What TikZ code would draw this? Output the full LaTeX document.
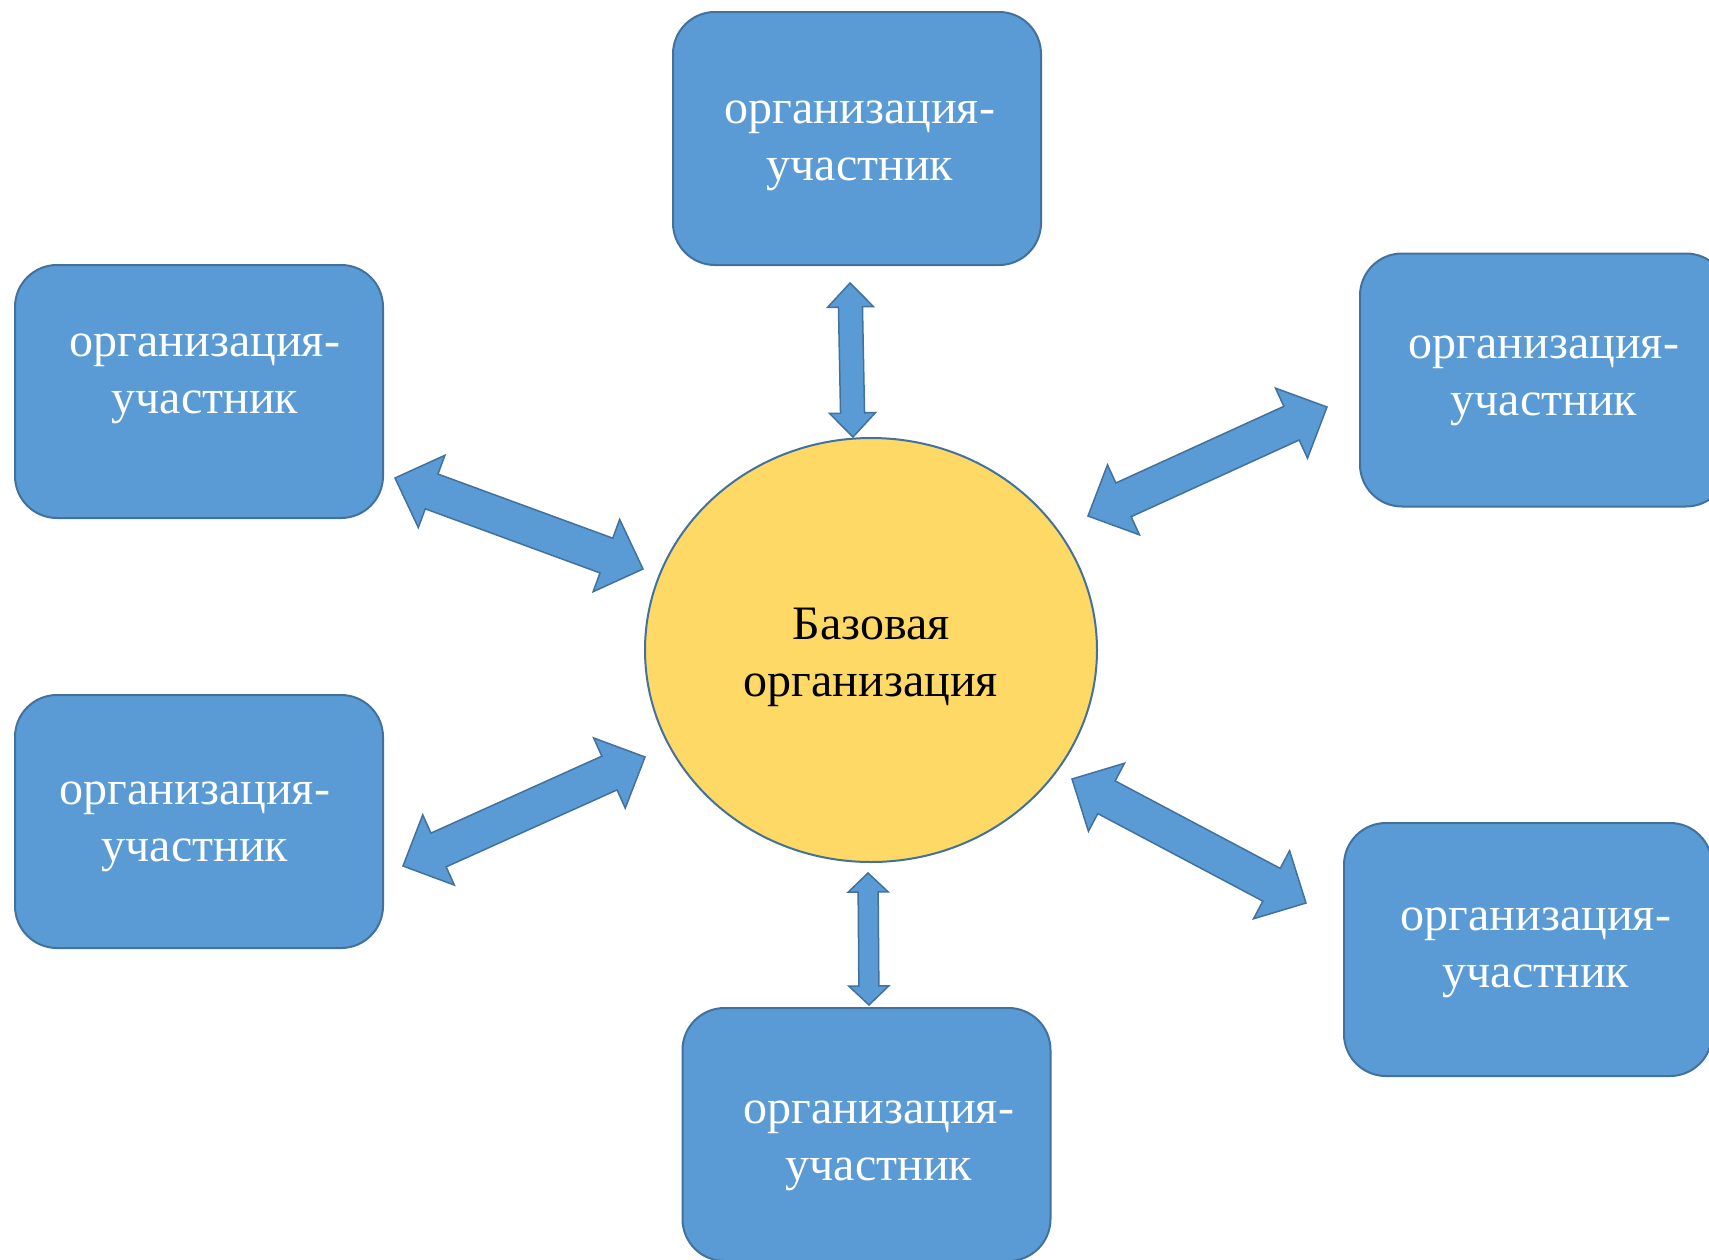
\documentclass[tikz,border=0pt]{standalone}
\usepackage{fontspec}
\setmainfont{Liberation Serif}
\usetikzlibrary{calc,shapes.geometric}
\definecolor{boxblue}{HTML}{5B9BD5}
\definecolor{edgeblue}{HTML}{41719C}
\definecolor{hubgold}{HTML}{FFD966}
% #1 start, #2 end, #3 half shaft width, #4 half head width, #5 head length
\newcommand\dblarr[5]{%
  \filldraw[biarrow] (#1)
    -- ($(#1)!#5!(#2)!#4!90:(#2)$)
    -- ($(#1)!#5!(#2)!#3!90:(#2)$)
    -- ($(#2)!#5!(#1)!#3!-90:(#1)$)
    -- ($(#2)!#5!(#1)!#4!-90:(#1)$)
    -- (#2)
    -- ($(#2)!#5!(#1)!#4!90:(#1)$)
    -- ($(#2)!#5!(#1)!#3!90:(#1)$)
    -- ($(#1)!#5!(#2)!#3!-90:(#2)$)
    -- ($(#1)!#5!(#2)!#4!-90:(#2)$)
    -- cycle;}
\begin{document}
\begin{tikzpicture}[x=1pt,y=-1pt,
  box/.style={draw=edgeblue, fill=boxblue, line width=2pt, rounded corners=42pt,
    minimum width=368pt, minimum height=253pt, inner sep=0pt},
  boxtext/.style={text=white, align=center, inner sep=0pt,
    font=\fontsize{48}{57}\selectfont},
  hub/.style={ellipse, draw=edgeblue, fill=hubgold, line width=2pt,
    minimum width=452pt, minimum height=424pt, inner sep=0pt},
  hubtext/.style={text=black, align=center, inner sep=0pt,
    font=\fontsize{48}{57}\selectfont},
  biarrow/.style={fill=boxblue, draw=edgeblue, line width=1.5pt, line join=miter}]
\useasboundingbox (0,0) rectangle (1709,1259);
\fill[white] (0,0) rectangle (1709,1259);

% boxes
\node[box] (top) at (857,138.5) {};
\node[box] (lt)  at (199,391.5) {};
\node[box] (lb)  at (199,821.5) {};
\node[box] (rt)  at (1544,380) {};
\node[box] (rb)  at (1528,949.5) {};
\node[box] (bot) at (866.5,1134.5) {};
\node[hub] (hub) at (871,650) {};

% texts
\node[boxtext] (top-t) at (860,145.5) {организация-\\участник};
\node[boxtext] (lt-t)  at (205,379) {организация-\\участник};
\node[boxtext] (lb-t)  at (195,827) {организация-\\участник};
\node[boxtext] (rt-t)  at (1544,381) {организация-\\участник};
\node[boxtext] (rb-t)  at (1536,953) {организация-\\участник};
\node[boxtext] (bot-t) at (879,1146) {организация-\\участник};
\node[hubtext] (hub-t) at (871,657.5) {Базовая\\организация};

% arrow ends
\coordinate (a-top-1) at (850,283);
\coordinate (a-top-2) at (853,437);
\coordinate (a-bot-1) at (868,873);
\coordinate (a-bot-2) at (869,1005);
\coordinate (a-lt-1) at (395,478);
\coordinate (a-lt-2) at (643,569);
\coordinate (a-rt-1) at (1088,516);
\coordinate (a-rt-2) at (1327,407);
\coordinate (a-lb-1) at (403,866);
\coordinate (a-lb-2) at (645,757);
\coordinate (a-rb-1) at (1072,779);
\coordinate (a-rb-2) at (1306,903);

% arrows
\dblarr{a-top-1}{a-top-2}{12pt}{23pt}{24pt}
\dblarr{a-bot-1}{a-bot-2}{10pt}{20pt}{19pt}
\dblarr{a-lt-1}{a-lt-2}{18.5pt}{38.5pt}{39pt}
\dblarr{a-rt-1}{a-rt-2}{18.5pt}{38.5pt}{39pt}
\dblarr{a-lb-1}{a-lb-2}{18.5pt}{38.5pt}{39pt}
\dblarr{a-rb-1}{a-rb-2}{18.5pt}{38.5pt}{39pt}
\end{tikzpicture}
\end{document}
